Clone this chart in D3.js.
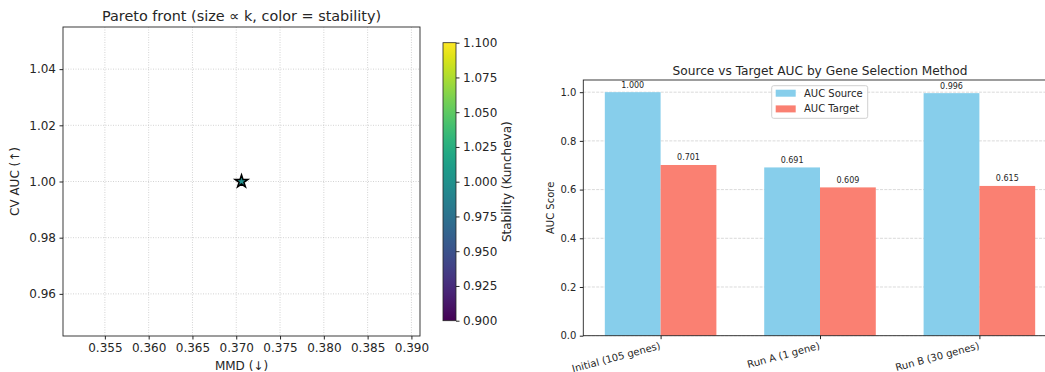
<!DOCTYPE html>
<html>
<head>
<meta charset="utf-8">
<script src="https://cdn.jsdelivr.net/npm/d3@7"></script>
<style>
  body { margin: 0; background: #fff; }
  svg { font-family: "DejaVu Sans", sans-serif; }
</style>
</head>
<body>
<svg id="chart" width="1045" height="372"></svg>
<script>
// Pareto front data (one solution)
const paretoMMD = [0.3706];
const paretoAUC = [1.0];
const paretoStability = [1.0];

// Bar chart data
const methods = ["Initial (105 genes)", "Run A (1 gene)", "Run B (30 genes)"];
const aucSource = [1.000, 0.691, 0.996];
const aucTarget = [0.701, 0.609, 0.615];

const xTicksLeft = [0.355, 0.360, 0.365, 0.370, 0.375, 0.380, 0.385, 0.390];
const yTicksLeft = [0.96, 0.98, 1.00, 1.02, 1.04];
const cbTicks = [0.900, 0.925, 0.950, 0.975, 1.000, 1.025, 1.050, 1.075, 1.100];
const yTicksRight = [0.0, 0.2, 0.4, 0.6, 0.8, 1.0];

const svg = d3.select("#chart");
const ink = "#262626";

// ---------- Left panel: Pareto scatter ----------
const L = { left: 63, right: 420, top: 27, bottom: 336 };
const xL = d3.scaleLinear().domain([0.35022, 0.39098]).range([L.left, L.right]);
const yL = d3.scaleLinear().domain([0.945, 1.055]).range([L.bottom, L.top]);
const color = d3.scaleSequential(d3.interpolateViridis).domain([0.9, 1.1]);

const left = svg.append("g");

// grid
left.append("g").selectAll("line").data(xTicksLeft).join("line")
    .attr("x1", d => xL(d)).attr("x2", d => xL(d))
    .attr("y1", L.top).attr("y2", L.bottom)
    .attr("stroke", "#b0b0b0").attr("stroke-opacity", 0.7)
    .attr("stroke-width", 0.8).attr("stroke-dasharray", "1,1.5");
left.append("g").selectAll("line").data(yTicksLeft).join("line")
    .attr("y1", d => yL(d)).attr("y2", d => yL(d))
    .attr("x1", L.left).attr("x2", L.right)
    .attr("stroke", "#b0b0b0").attr("stroke-opacity", 0.7)
    .attr("stroke-width", 0.8).attr("stroke-dasharray", "1,1.5");

// axes
left.append("g")
    .attr("transform", `translate(0,${L.bottom})`)
    .call(d3.axisBottom(xL).tickValues(xTicksLeft).tickFormat(d3.format(".3f")).tickSize(3.5).tickPadding(3.5))
    .call(g => g.select(".domain").remove())
    .call(g => g.selectAll("text").attr("font-size", 12).attr("fill", ink).attr("font-family", "DejaVu Sans"))
    .call(g => g.selectAll("line").attr("stroke", ink));
left.append("g")
    .attr("transform", `translate(${L.left},0)`)
    .call(d3.axisLeft(yL).tickValues(yTicksLeft).tickFormat(d3.format(".2f")).tickSize(3.5).tickPadding(3.5))
    .call(g => g.select(".domain").remove())
    .call(g => g.selectAll("text").attr("font-size", 12).attr("fill", ink).attr("font-family", "DejaVu Sans"))
    .call(g => g.selectAll("line").attr("stroke", ink));

left.append("rect")
    .attr("x", L.left).attr("y", L.top)
    .attr("width", L.right - L.left).attr("height", L.bottom - L.top)
    .attr("fill", "none").attr("stroke", ink).attr("stroke-width", 0.9);

// point
left.append("g").selectAll("path").data(paretoMMD).join("path")
    .attr("d", d3.symbol(d3.symbolStar, 50))
    .attr("transform", (d, i) => `translate(${xL(d)},${yL(paretoAUC[i])})`)
    .attr("fill", (d, i) => color(paretoStability[i]))
    .attr("stroke", "#000").attr("stroke-width", 1.5);

left.append("text")
    .attr("x", (L.left + L.right) / 2).attr("y", 21)
    .attr("text-anchor", "middle").attr("font-size", 14.4).attr("fill", ink)
    .text("Pareto front (size \u221d k, color = stability)");
left.append("text")
    .attr("x", (L.left + L.right) / 2).attr("y", 370)
    .attr("text-anchor", "middle").attr("font-size", 12).attr("fill", ink)
    .text("MMD (\u2193)");
left.append("text")
    .attr("transform", `translate(19,${(L.top + L.bottom) / 2}) rotate(-90)`)
    .attr("text-anchor", "middle").attr("font-size", 12).attr("fill", ink)
    .text("CV AUC (\u2191)");

// colorbar
const CB = { left: 443, right: 456, top: 42.7, bottom: 320.7 };
const yCB = d3.scaleLinear().domain([0.9, 1.1]).range([CB.bottom, CB.top]);
const grad = svg.append("defs").append("linearGradient")
    .attr("id", "viridis").attr("x1", 0).attr("y1", 1).attr("x2", 0).attr("y2", 0);
d3.range(0, 1.0001, 0.05).forEach(t => {
  grad.append("stop").attr("offset", t).attr("stop-color", d3.interpolateViridis(t));
});
svg.append("rect")
    .attr("x", CB.left).attr("y", CB.top)
    .attr("width", CB.right - CB.left).attr("height", CB.bottom - CB.top)
    .attr("fill", "url(#viridis)").attr("stroke", ink).attr("stroke-width", 0.8);
svg.append("g")
    .attr("transform", `translate(${CB.right},0)`)
    .call(d3.axisRight(yCB).tickValues(cbTicks).tickFormat(d3.format(".3f")).tickSize(3.5).tickPadding(3.5))
    .call(g => g.select(".domain").remove())
    .call(g => g.selectAll("text").attr("font-size", 12).attr("fill", ink).attr("font-family", "DejaVu Sans"))
    .call(g => g.selectAll("line").attr("stroke", ink));
svg.append("text")
    .attr("transform", `translate(511,${(CB.top + CB.bottom) / 2}) rotate(-90)`)
    .attr("text-anchor", "middle").attr("font-size", 12).attr("fill", ink)
    .text("Stability (Kuncheva)");

// ---------- Right panel: grouped bars ----------
const R = { left: 583.3, right: 1056.7, top: 80, bottom: 335.7 };
const xR = d3.scaleLinear().domain([-0.485, 2.485]).range([R.left, R.right]);
const yR = d3.scaleLinear().domain([0, 1.05]).range([R.bottom, R.top]);
const barW = 0.35;

const right = svg.append("g");

right.append("g").selectAll("line").data(yTicksRight).join("line")
    .attr("x1", R.left).attr("x2", R.right)
    .attr("y1", d => yR(d)).attr("y2", d => yR(d))
    .attr("stroke", "#b0b0b0").attr("stroke-opacity", 0.6)
    .attr("stroke-width", 0.8).attr("stroke-dasharray", "3,1.3");

const series = [
  { name: "AUC Source", values: aucSource, offset: -barW / 2, fill: "#87CEEB" },
  { name: "AUC Target", values: aucTarget, offset: barW / 2, fill: "#FA8072" }
];

series.forEach(s => {
  right.append("g").selectAll("rect").data(s.values).join("rect")
      .attr("x", (d, i) => xR(i + s.offset - barW / 2))
      .attr("width", xR(barW) - xR(0))
      .attr("y", d => yR(d))
      .attr("height", d => yR(0) - yR(d))
      .attr("fill", s.fill);
  right.append("g").selectAll("text").data(s.values).join("text")
      .attr("x", (d, i) => xR(i + s.offset))
      .attr("y", d => yR(d) - 4.5)
      .attr("text-anchor", "middle").attr("font-size", 8).attr("fill", ink)
      .text(d => d3.format(".3f")(d));
});

right.append("g")
    .attr("transform", `translate(${R.left},0)`)
    .call(d3.axisLeft(yR).tickValues(yTicksRight).tickFormat(d3.format(".1f")).tickSize(3.5).tickPadding(3.5))
    .call(g => g.select(".domain").remove())
    .call(g => g.selectAll("text").attr("font-size", 10).attr("fill", ink).attr("font-family", "DejaVu Sans"))
    .call(g => g.selectAll("line").attr("stroke", ink));

const xAxisR = right.append("g")
    .attr("transform", `translate(0,${R.bottom})`)
    .call(d3.axisBottom(xR).tickValues([0, 1, 2]).tickFormat(i => methods[i]).tickSize(3.5))
    .call(g => g.select(".domain").remove())
    .call(g => g.selectAll("line").attr("stroke", ink));
xAxisR.selectAll("text")
    .attr("font-size", 10).attr("fill", ink).attr("font-family", "DejaVu Sans")
    .attr("text-anchor", "end").attr("y", 0).attr("dy", "0.78em")
    .attr("transform", "translate(-2,5.5) rotate(-15)");

right.append("rect")
    .attr("x", R.left).attr("y", R.top)
    .attr("width", R.right - R.left).attr("height", R.bottom - R.top)
    .attr("fill", "none").attr("stroke", ink).attr("stroke-width", 0.9);

right.append("text")
    .attr("x", (R.left + R.right) / 2).attr("y", 74.5)
    .attr("text-anchor", "middle").attr("font-size", 12.2).attr("fill", ink)
    .text("Source vs Target AUC by Gene Selection Method");
right.append("text")
    .attr("transform", `translate(554,${(R.top + R.bottom) / 2}) rotate(-90)`)
    .attr("text-anchor", "middle").attr("font-size", 10).attr("fill", ink)
    .text("AUC Score");

// legend
const lg = right.append("g").attr("transform", "translate(771.7,85.7)");
lg.append("rect").attr("width", 96).attr("height", 32.6).attr("rx", 2)
    .attr("fill", "#fff").attr("fill-opacity", 0.8).attr("stroke", "#d0d0d0");
series.forEach((s, i) => {
  lg.append("rect").attr("x", 4).attr("y", 4 + i * 15.7).attr("width", 20).attr("height", 7)
      .attr("fill", s.fill);
  lg.append("text").attr("x", 32.3).attr("y", 7.6 + i * 15.7).attr("dy", "0.35em")
      .attr("font-size", 10).attr("fill", ink).text(s.name);
});
</script>
</body>
</html>
